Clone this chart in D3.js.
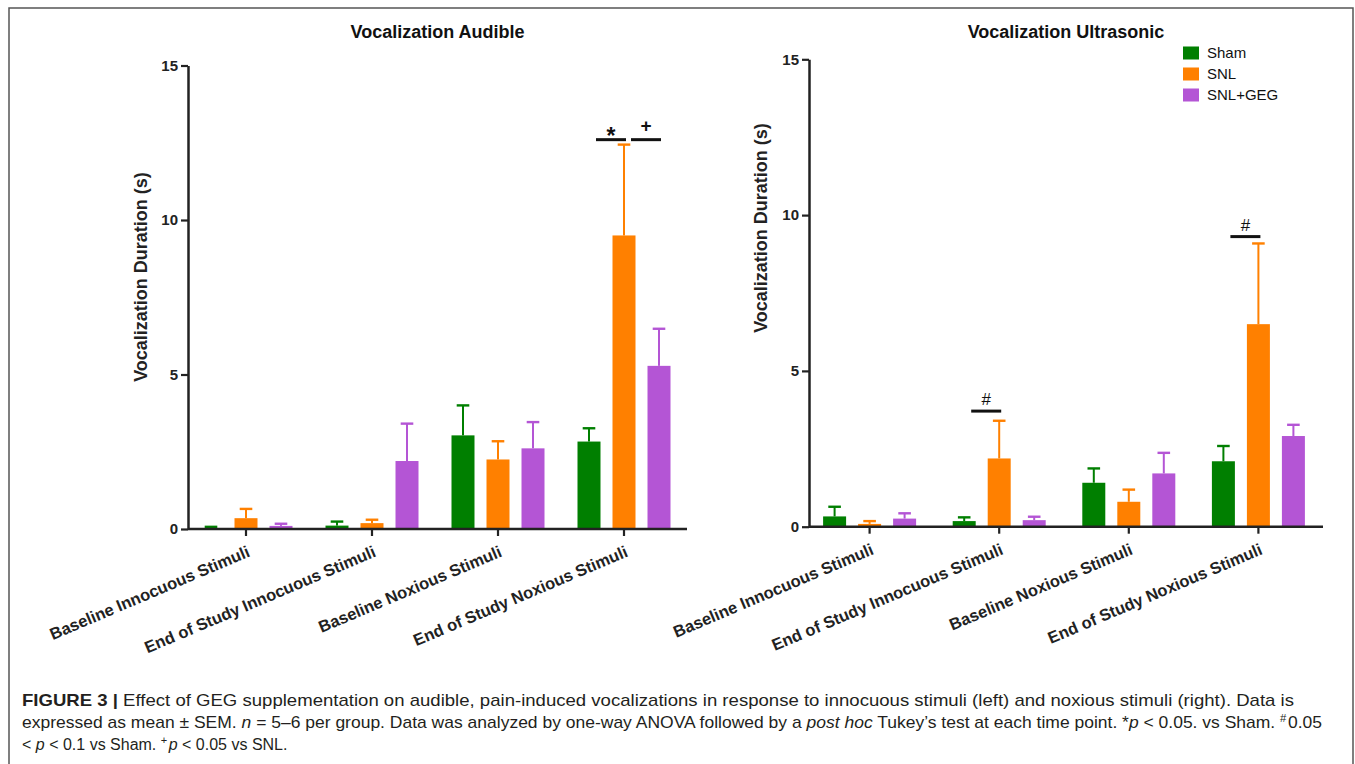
<!DOCTYPE html>
<html>
<head>
<meta charset="utf-8">
<script src="https://cdn.jsdelivr.net/npm/d3@7"></script>
<style>
  body { margin: 0; background: #fff; }
  svg { display: block; }
  text { font-family: "Liberation Sans", Arial, Helvetica, sans-serif; }
</style>
</head>
<body>
<svg id="fig" width="1355" height="764"></svg>
<script>
// ---- data -------------------------------------------------------------
const categories = [
  "Baseline Innocuous Stimuli",
  "End of Study Innocuous Stimuli",
  "Baseline Noxious Stimuli",
  "End of Study Noxious Stimuli"
];
const groups = ["Sham", "SNL", "SNL+GEG"];
const groupColors = ["#007f00", "#ff8000", "#b455d5"];
const yTicks = [0, 5, 10, 15];

// Audible vocalization duration (s), mean and SEM
const audibleSham    = [0.01, 0.11, 3.03, 2.83];
const audibleShamSem = [0.06, 0.13, 0.97, 0.43];
const audibleSNL     = [0.35, 0.19, 2.25, 9.50];
const audibleSNLSem  = [0.30, 0.11, 0.59, 2.94];
const audibleGEG     = [0.10, 2.20, 2.61, 5.28];
const audibleGEGSem  = [0.07, 1.21, 0.85, 1.20];

// Ultrasonic vocalization duration (s), mean and SEM
const ultraSham    = [0.33, 0.18, 1.41, 2.10];
const ultraShamSem = [0.31, 0.12, 0.46, 0.49];
const ultraSNL     = [0.09, 2.19, 0.80, 6.50];
const ultraSNLSem  = [0.09, 1.21, 0.39, 2.59];
const ultraGEG     = [0.26, 0.21, 1.71, 2.91];
const ultraGEGSem  = [0.17, 0.11, 0.66, 0.36];

// significance marks: category, compared groups, height in seconds
const audibleMarks = [
  { cat: 3, symbol: "*", from: 0, to: 1, level: 12.6 },
  { cat: 3, symbol: "+", from: 1, to: 2, level: 12.6 }
];
const ultraMarks = [
  { cat: 1, symbol: "#", from: 0, to: 1, level: 3.71 },
  { cat: 3, symbol: "#", from: 0, to: 1, level: 9.31 }
];

const captionLines = [
  [{ t: "FIGURE 3 | ", b: true }, { t: "Effect of GEG supplementation on audible, pain-induced vocalizations in response to innocuous stimuli (left) and noxious stimuli (right). Data is" }],
  [{ t: "expressed as mean ± SEM. " }, { t: "n", i: true }, { t: " = 5–6 per group. Data was analyzed by one-way ANOVA followed by a " }, { t: "post hoc", i: true }, { t: " Tukey’s test at each time point. *" }, { t: "p", i: true }, { t: " < 0.05. vs Sham. " }, { t: "#", sup: true }, { t: "0.05" }],
  [{ t: "< " }, { t: "p", i: true }, { t: " < 0.1 vs Sham. " }, { t: "+", sup: true }, { t: "p", i: true }, { t: " < 0.05 vs SNL." }]
];

// ---- drawing ----------------------------------------------------------
const svg = d3.select("#fig");
const ink = "#222";

// figure frame
svg.append("rect")
  .attr("x", 9).attr("y", 8).attr("width", 1344).attr("height", 780)
  .attr("fill", "none").attr("stroke", "#555").attr("stroke-width", 1.5);

function drawPanel(cfg) {
  const g = svg.append("g");
  const x = d3.scaleBand().domain(categories).range(cfg.bandRange);
  const xs = d3.scaleBand().domain(groups).range([-46.5, 46.5]).paddingInner(0.343);
  const y = d3.scaleLinear().domain([0, 15]).range([cfg.y0, cfg.y15]);
  const center = c => x(c) + x.bandwidth() / 2;
  const barMid = (c, s) => center(c) + xs(s) + xs.bandwidth() / 2;

  groups.forEach((name, i) => {
    const cells = categories.map((c, j) => ({ c, v: cfg.means[i][j], e: cfg.sems[i][j] }));
    const sg = g.append("g");
    sg.selectAll("rect").data(cells).join("rect")
      .attr("x", d => center(d.c) + xs(name))
      .attr("width", xs.bandwidth())
      .attr("y", d => y(d.v))
      .attr("height", d => y(0) - y(d.v))
      .attr("fill", groupColors[i]);
    sg.selectAll("line.err").data(cells).join("line").attr("class", "err")
      .attr("x1", d => barMid(d.c, name)).attr("x2", d => barMid(d.c, name))
      .attr("y1", d => y(d.v)).attr("y2", d => y(d.v + d.e))
      .attr("stroke", groupColors[i]).attr("stroke-width", 2);
    sg.selectAll("line.cap").data(cells).join("line").attr("class", "cap")
      .attr("x1", d => barMid(d.c, name) - 6.3).attr("x2", d => barMid(d.c, name) + 6.3)
      .attr("y1", d => y(d.v + d.e)).attr("y2", d => y(d.v + d.e))
      .attr("stroke", groupColors[i]).attr("stroke-width", 2.4);
  });

  // y axis
  const ya = g.append("g").attr("transform", `translate(${cfg.axisX},0)`)
    .call(d3.axisLeft(y).tickValues(yTicks).tickSize(7).tickSizeOuter(0).tickPadding(3));
  ya.select(".domain").attr("stroke", ink).attr("stroke-width", 2.5);
  ya.selectAll(".tick line").attr("stroke", ink).attr("stroke-width", 2.2);
  ya.selectAll(".tick text").attr("fill", ink).style("font-size", "15px").style("font-weight", "bold");

  // x axis
  const xa = g.append("g").attr("transform", `translate(0,${cfg.y0})`)
    .call(d3.axisBottom(x).tickSize(7).tickSizeOuter(0));
  xa.select(".domain").remove();
  xa.append("line").attr("x1", cfg.axisX).attr("x2", cfg.axisEnd)
    .attr("stroke", ink).attr("stroke-width", 2.5);
  xa.selectAll(".tick line").attr("stroke", ink).attr("stroke-width", 2.2);
  xa.selectAll(".tick text")
    .attr("y", null).attr("dy", null)
    .attr("transform", "translate(5,27) rotate(-23)")
    .attr("text-anchor", "end").attr("fill", ink)
    .style("font-size", "16.5px").style("font-weight", "bold");

  // title
  g.append("text").attr("x", (cfg.axisX + cfg.axisEnd) / 2).attr("y", 38)
    .attr("text-anchor", "middle").attr("fill", "#111")
    .style("font-size", "18px").style("font-weight", "bold").text(cfg.title);

  // y label
  g.append("text")
    .attr("transform", `translate(${cfg.yLabelX},${cfg.yLabelY}) rotate(-90)`)
    .attr("text-anchor", "middle").attr("fill", ink)
    .style("font-size", "18px").style("font-weight", "bold")
    .text("Vocalization Duration (s)");

  // significance marks
  cfg.marks.forEach(m => {
    const c = categories[m.cat];
    const x1 = barMid(c, groups[m.from]) + 7;
    const x2 = barMid(c, groups[m.to]) + 2;
    const ly = y(m.level);
    g.append("line").attr("x1", x1).attr("x2", x2).attr("y1", ly).attr("y2", ly)
      .attr("stroke", "#111").attr("stroke-width", 3);
    const t = g.append("text").attr("x", (x1 + x2) / 2).attr("text-anchor", "middle")
      .attr("fill", "#111").text(m.symbol);
    if (m.symbol === "*") t.attr("y", ly + 4).style("font-size", "23px").style("font-weight", "bold");
    else if (m.symbol === "+") t.attr("y", ly - 7.5).style("font-size", "19px").style("font-weight", "bold");
    else t.attr("y", ly - 6).style("font-size", "17px");
  });
}

drawPanel({
  title: "Vocalization Audible",
  bandRange: [183, 687], axisX: 188, axisEnd: 687,
  y0: 529, y15: 65.5, yLabelX: 147, yLabelY: 277,
  means: [audibleSham, audibleSNL, audibleGEG],
  sems: [audibleShamSem, audibleSNLSem, audibleGEGSem],
  marks: audibleMarks
});

drawPanel({
  title: "Vocalization Ultrasonic",
  bandRange: [804.8, 1323.2], axisX: 809, axisEnd: 1323,
  y0: 526.7, y15: 59.3, yLabelX: 767, yLabelY: 228,
  means: [ultraSham, ultraSNL, ultraGEG],
  sems: [ultraShamSem, ultraSNLSem, ultraGEGSem],
  marks: ultraMarks
});

// legend
const legend = svg.append("g").attr("transform", "translate(1183,53)");
groups.forEach((name, i) => {
  const row = legend.append("g").attr("transform", `translate(0,${i * 21})`);
  row.append("rect").attr("x", 0).attr("y", -6.5).attr("width", 16).attr("height", 13).attr("fill", groupColors[i]);
  row.append("text").attr("x", 24).attr("y", 5).attr("fill", "#111")
    .style("font-size", "15px").text(name);
});

// caption: the two long lines are fitted to the full text width,
// the short closing line keeps its natural spacing
const capWidths = [1272, 1300, null];
const capSizes = [17, 17, 16];
captionLines.forEach((parts, li) => {
  const t = svg.append("text")
    .attr("x", 22).attr("y", 706 + li * 22)
    .attr("fill", "#231f20")
    .style("font-family", "'Liberation Sans Narrow', 'Liberation Sans', Arial, sans-serif")
    .style("font-size", capSizes[li] + "px");
  if (capWidths[li]) t.attr("textLength", capWidths[li]).attr("lengthAdjust", "spacingAndGlyphs");
  parts.forEach((p, k) => {
    const s = t.append("tspan").text(p.t);
    if (p.b) s.style("font-weight", "bold");
    if (p.i) s.style("font-style", "italic");
    if (p.sup) s.attr("dy", -6).style("font-size", "11px");
    else if (k > 0 && parts[k - 1].sup) s.attr("dy", 6).attr("dx", 1.5);
  });
});
</script>
</body>
</html>
